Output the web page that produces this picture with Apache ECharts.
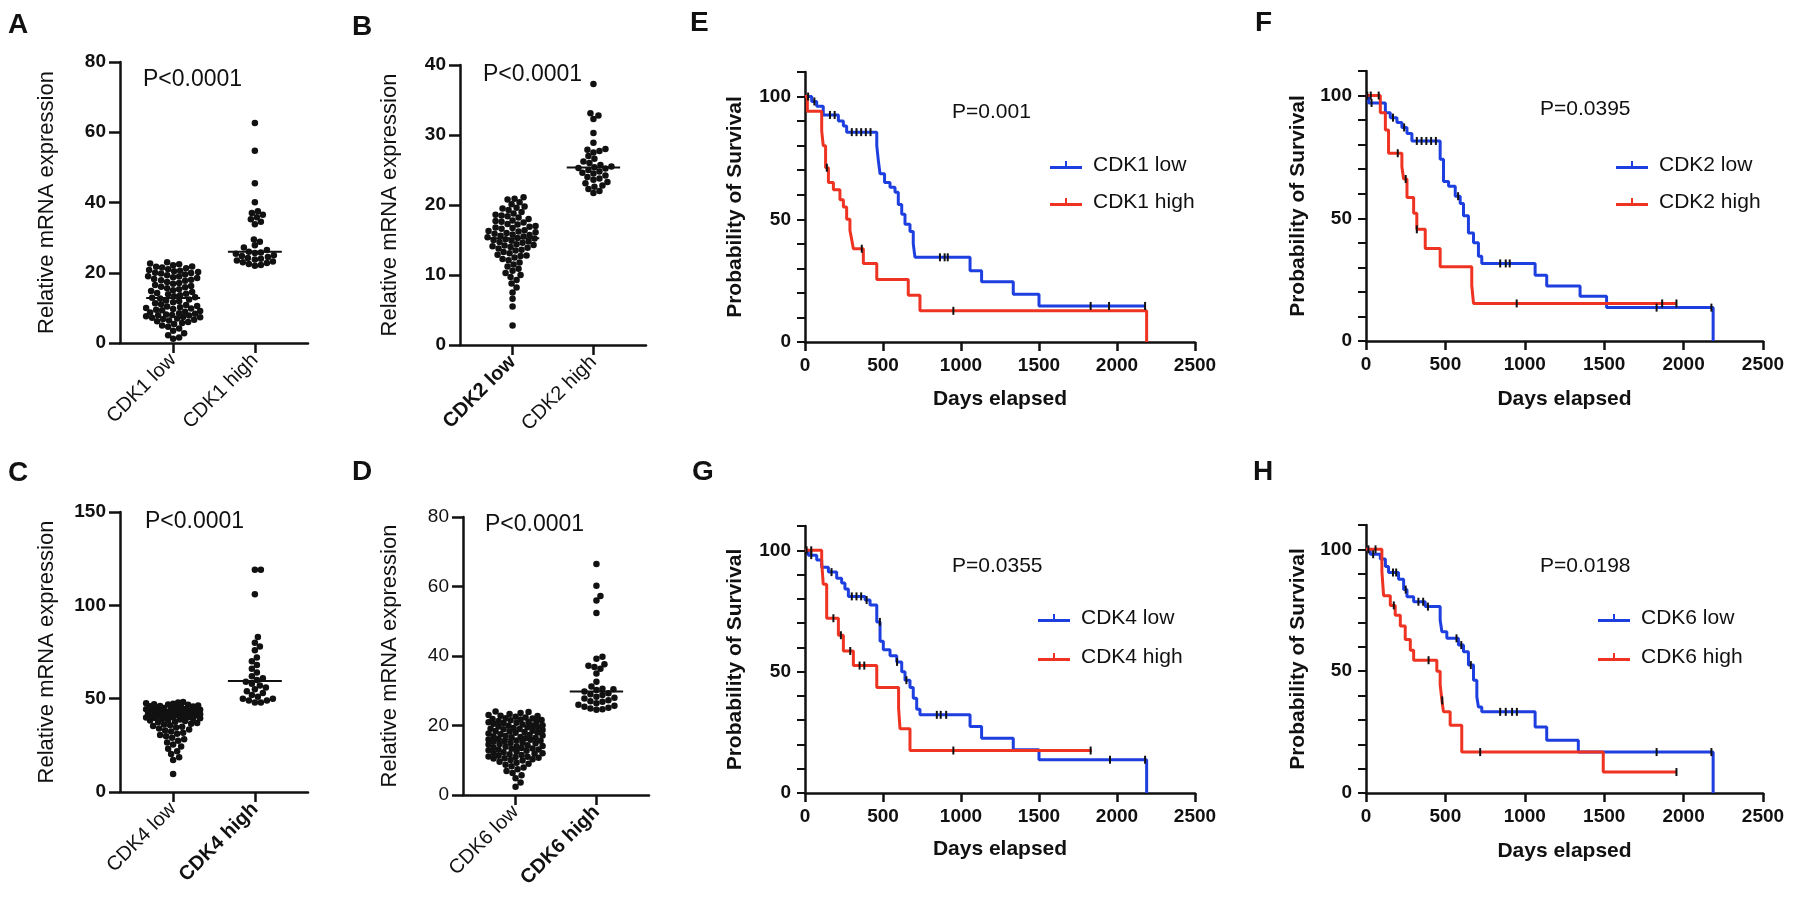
<!DOCTYPE html>
<html>
<head>
<meta charset="utf-8">
<title>CDK expression and survival</title>
<script src="https://cdn.jsdelivr.net/npm/echarts@6/dist/echarts.min.js"></script>
<style>
  html, body { margin: 0; padding: 0; background: #fff; }
  #chart { width: 1800px; height: 908px; }
</style>
</head>
<body>
<div id="chart"></div>
<script>
// ---- relative mRNA expression, panels A-D ----
const cdk1Low = [23.0, 22.6, 22.4, 22.1, 21.8, 21.7, 21.5, 21.3, 21.0, 20.8, 20.6, 20.4, 20.2, 20.0, 19.9, 19.8, 19.5,
  19.3, 19.0, 18.9, 18.7, 18.5, 18.2, 18.0, 17.9, 17.7, 17.4, 17.1, 16.9, 16.5, 16.2, 16.0, 15.9, 15.6, 15.3, 15.0,
  14.8, 14.5, 14.2, 14.0, 13.9, 13.6, 13.3, 13.0, 12.9, 12.7, 12.4, 12.1, 11.9, 11.6, 11.3, 11.0, 10.8, 10.5, 10.4,
  10.2, 10.0, 9.8, 9.7, 9.5, 9.3, 9.1, 8.9, 8.7, 8.5, 8.3, 8.1, 8.0, 7.9, 7.8, 7.6, 7.4, 7.3, 7.2, 7.0, 6.8, 6.6,
  6.4, 6.2, 6.0, 5.7, 5.4, 5.0, 4.6, 4.1, 3.5, 2.8, 2.2, 1.6, 1.2];
const cdk1High = [62.6, 54.7, 45.5, 40.1, 37.5, 37.0, 36.5, 35.8, 35.2, 34.5, 33.8, 29.5, 28.8, 27.8, 27.2, 26.5,
  26.0, 25.8, 25.6, 25.4, 25.0, 24.8, 24.5, 24.2, 24.0, 23.8, 23.5, 23.2, 23.0, 22.8, 22.5, 22.2, 22.0];
const cdk2Low = [21.1, 20.9, 20.8, 20.4, 20.1, 19.8, 19.6, 19.5, 19.3, 19.0, 18.8, 18.6, 18.5, 18.4, 18.2, 18.0,
  17.8, 17.7, 17.6, 17.5, 17.3, 17.2, 17.0, 16.9, 16.8, 16.7, 16.6, 16.4, 16.3, 16.2, 16.1, 16.0, 15.9, 15.8, 15.7,
  15.6, 15.5, 15.4, 15.3, 15.2, 15.1, 15.0, 14.9, 14.8, 14.7, 14.6, 14.4, 14.3, 14.2, 14.1, 14.0, 13.9, 13.8, 13.6,
  13.5, 13.3, 13.1, 12.9, 12.8, 12.7, 12.5, 12.3, 12.1, 11.8, 11.5, 11.2, 10.9, 10.6, 10.3, 10.0, 9.7, 9.3, 8.8,
  8.2, 7.5, 6.6, 5.5, 2.8];
const cdk2High = [37.3, 33.1, 32.8, 32.3, 30.3, 28.9, 28.0, 27.9, 27.7, 27.5, 27.0, 26.6, 26.2, 26.0, 25.7, 25.5,
  25.4, 25.3, 25.2, 25.0, 24.8, 24.6, 24.5, 24.2, 24.0, 23.8, 23.6, 23.3, 23.1, 22.8, 22.6, 22.3, 22.0, 21.7];
const cdk4Low = [48.2, 47.9, 47.6, 47.3, 47.0, 46.9, 46.7, 46.4, 46.1, 45.9, 45.8, 45.5, 45.3, 45.0, 44.8, 44.6,
  44.5, 44.3, 44.0, 43.8, 43.6, 43.4, 43.1, 43.0, 42.9, 42.7, 42.5, 42.3, 42.1, 42.0, 41.9, 41.7, 41.5, 41.3, 41.1,
  41.0, 40.9, 40.7, 40.5, 40.3, 40.1, 40.0, 39.9, 39.7, 39.5, 39.3, 39.1, 38.9, 38.6, 38.3, 38.0, 37.7, 37.4, 37.0,
  36.6, 36.2, 35.8, 35.4, 35.0, 34.5, 34.0, 33.5, 33.0, 32.4, 31.8, 31.2, 30.5, 29.8, 29.0, 28.2, 27.4, 26.5, 25.5,
  24.4, 23.2, 21.8, 20.3, 18.6, 17.2, 9.6];
const cdk4High = [119, 119, 106, 83, 80, 78, 76, 72, 70, 68, 66, 64, 62, 61, 60, 59, 58, 57, 56, 55, 54, 53, 52,
  51, 50, 50, 49, 49, 48, 48];
const cdk6Low = [24.0, 23.9, 23.6, 23.3, 23.0, 22.8, 22.7, 22.5, 22.3, 22.1, 22.0, 21.9, 21.7, 21.6, 21.5, 21.3,
  21.1, 21.0, 20.9, 20.8, 20.7, 20.5, 20.3, 20.1, 20.0, 19.9, 19.7, 19.6, 19.5, 19.3, 19.1, 19.0, 18.9, 18.7, 18.5,
  18.4, 18.3, 18.1, 18.0, 17.9, 17.7, 17.5, 17.3, 17.1, 17.0, 16.9, 16.7, 16.6, 16.5, 16.3, 16.1, 16.0, 15.9, 15.7,
  15.6, 15.5, 15.3, 15.1, 15.0, 14.9, 14.7, 14.5, 14.3, 14.1, 14.0, 13.9, 13.7, 13.5, 13.4, 13.3, 13.1, 13.0, 12.9,
  12.7, 12.5, 12.3, 12.1, 12.0, 11.9, 11.7, 11.5, 11.3, 11.1, 11.0, 10.9, 10.7, 10.6, 10.5, 10.3, 10.1, 9.9, 9.6,
  9.3, 9.0, 8.7, 8.3, 7.9, 7.4, 6.9, 6.3, 5.7, 4.8, 3.6, 2.4];
const cdk6High = [66.5, 60.2, 57.3, 56.0, 52.4, 39.8, 39.2, 37.6, 37.2, 36.8, 36.3, 35.0, 32.6, 31.2, 30.6, 30.4,
  30.2, 29.8, 29.3, 28.8, 28.3, 27.8, 27.3, 26.8, 26.4, 26.0, 25.7, 25.4, 25.1, 24.9, 24.7, 24.5, 27.0, 28.0, 29.0];

// ---- Kaplan-Meier curves, panels E-H: step times (days), survival (%), censored times ----
const cdk1LowT = [0, 43, 75, 117, 214, 246, 267, 460, 470, 481, 510, 545, 577, 598, 620, 641, 673, 694, 705, 1058, 1132, 1335, 1500, 2180];
const cdk1LowS = [100, 98, 96, 92.5, 90, 88, 85.5, 80, 74, 68.5, 65, 63, 61, 56, 52, 48, 45, 40, 34.5, 29, 24.5, 19.5, 14.7, 14.7];
const cdk1LowC = [20, 60, 160, 190, 300, 330, 360, 390, 420, 865, 895, 915, 1831, 1949, 2180];
const cdk1HighT = [0, 15, 107, 117, 132, 150, 182, 224, 246, 267, 288, 300, 310, 374, 460, 662, 737, 2190];
const cdk1HighS = [100, 94, 86, 80, 71, 65, 62, 58, 55, 50, 45.5, 41.5, 38, 32, 25.5, 19, 12.7, 0];
const cdk1HighC = [140, 364, 951];

const cdk2LowT = [0, 17, 122, 153, 195, 226, 258, 289, 467, 488, 520, 562, 593, 614, 645, 677, 708, 729, 1065, 1138, 1348, 1515, 2186];
const cdk2LowS = [100, 97, 93, 91, 89, 87, 84.5, 81.5, 74, 65, 63, 59, 56, 51, 44, 40, 34.5, 31.6, 26.8, 22.4, 18.2, 13.6, 0];
const cdk2LowC = [8, 35, 170, 240, 320, 350, 380, 410, 440, 580, 845, 880, 905, 1830, 2175];
const cdk2HighT = [0, 90, 122, 142, 226, 237, 258, 300, 320, 373, 467, 666, 677, 1955];
const cdk2HighS = [100, 93, 86, 76.5, 71, 66, 58.5, 52, 45.5, 37.7, 30.3, 22.7, 15.3, 15.3];
const cdk2HighC = [30, 80, 200, 250, 320, 949, 1865, 1955];

const cdk4LowT = [0, 21, 75, 107, 150, 203, 235, 256, 278, 385, 417, 460, 481, 502, 545, 588, 620, 641, 673, 694, 716, 737, 1058, 1132, 1335, 1500, 2190];
const cdk4LowS = [100, 98, 96, 93, 91, 88.5, 86.5, 84, 81, 79.5, 77.5, 70.5, 62.5, 59, 56.5, 54, 50, 46.5, 43.5, 39, 34.5, 32.2, 27.4, 22.6, 17.8, 13.7, 0];
const cdk4LowC = [10, 40, 170, 300, 330, 360, 395, 480, 590, 650, 845, 870, 905, 1955, 2180];
const cdk4HighT = [0, 107, 117, 139, 214, 246, 310, 460, 600, 609, 673, 1838];
const cdk4HighS = [100, 95, 86, 72, 65, 58.5, 52.5, 43.5, 35, 26.5, 17.5, 17.5];
const cdk4HighC = [40, 182, 230, 290, 350, 380, 951, 1831];

const cdk6LowT = [0, 27, 90, 122, 142, 205, 237, 258, 300, 373, 467, 478, 509, 582, 614, 645, 677, 698, 708, 729, 1065, 1138, 1337, 2186];
const cdk6LowS = [100, 98, 96, 93, 90.5, 87.7, 83.5, 80.5, 78.5, 76.5, 71, 66.2, 63.5, 60.7, 58, 52.5, 46.3, 39.5, 35.3, 33.3, 27.1, 21.6, 16.8, 0];
const cdk6LowC = [15, 45, 170, 190, 250, 330, 360, 390, 570, 600, 660, 845, 880, 920, 950, 1830, 2175];
const cdk6HighT = [0, 100, 111, 153, 184, 216, 247, 279, 300, 446, 467, 478, 488, 530, 603, 1494, 1955];
const cdk6HighS = [100, 91, 81, 77, 73, 68.5, 63, 58.6, 54.5, 50, 44.5, 38, 33.3, 27.8, 16.8, 8.6, 8.6];
const cdk6HighC = [60, 175, 394, 480, 719, 1955];

const FONT = '"Liberation Sans", Arial, sans-serif';
const INK = '#111';
const BLUE = '#1e3fe0';
const RED = '#ee3322';
// legend glyph: line with a censor tick
const KM_ICON = 'path://M0,5H32V8H0Z M15,0H17V8H15Z';

const grids = [], xAxes = [], yAxes = [], series = [], titles = [], legends = [];

function median(arr) {
    const s = arr.slice().sort((a, b) => a - b);
    const m = s.length >> 1;
    return s.length % 2 ? s[m] : (s[m - 1] + s[m]) / 2;
}

// simple beeswarm: push each dot sideways (in px) until it no longer hits earlier dots
function swarm(values, center, pxX, pxY) {
    const d = 6, maxHalf = 27;
    const placed = [];
    return values.slice().sort((a, b) => a - b).map(v => {
        const yp = v * pxY;
        let best = 0, bestGap = -1;
        for (let k = 0; k <= maxHalf * 2; k++) {
            const xp = (k % 2 ? 1 : -1) * Math.ceil(k / 2);
            let gap = Infinity;
            for (const p of placed) {
                const dy = p[1] - yp;
                if (Math.abs(dy) >= d) continue;
                gap = Math.min(gap, Math.hypot(p[0] - xp, dy));
            }
            if (gap >= d) { best = xp; break; }
            if (gap > bestGap) { bestGap = gap; best = xp; }
        }
        placed.push([best, yp]);
        return [center + best / pxX, v];
    });
}

function survAt(t, times, surv) {
    let s = surv[0];
    for (let i = 0; i < times.length; i++) {
        if (times[i] <= t) s = surv[i];
    }
    return s;
}

function addTitle(text, left, top, size, weight) {
    titles.push({text, left, top, padding: 0,
        textStyle: {fontFamily: FONT, fontSize: size, fontWeight: weight, color: INK}});
}

function scatterPanel(p) {
    const gi = grids.length;
    const xMin = -0.65, xMax = 1.65;
    grids.push({left: p.left, top: p.top, width: p.width, height: p.height});
    const pxX = p.width / (xMax - xMin), pxY = p.height / p.yMax;
    xAxes.push({
        type: 'value', gridIndex: gi, min: xMin, max: xMax,
        splitLine: {show: false},
        axisLine: {show: true, onZero: false, lineStyle: {color: INK, width: 2.5}},
        axisTick: {show: true, customValues: [0, 1], length: 10, lineStyle: {color: INK, width: 2.5}},
        axisLabel: {
            customValues: [0, 1], rotate: 45, margin: 14, color: INK,
            formatter: v => (p.bold[Math.round(v)] ? '{b|' : '{n|') + p.names[Math.round(v)] + '}',
            rich: {
                b: {fontFamily: FONT, fontSize: 20, fontWeight: 'bold', color: INK},
                n: {fontFamily: FONT, fontSize: 20, color: INK}
            }
        }
    });
    yAxes.push({
        type: 'value', gridIndex: gi, min: 0, max: p.yMax, interval: p.yStep,
        name: 'Relative mRNA expression', nameLocation: 'middle', nameGap: p.nameGap,
        nameTextStyle: {fontFamily: FONT, fontSize: 22, color: INK},
        splitLine: {show: false},
        axisLine: {show: true, onZero: false, lineStyle: {color: INK, width: 2.5}},
        axisTick: {show: true, length: 11, lineStyle: {color: INK, width: 2.5}},
        axisLabel: {fontFamily: FONT, fontSize: 19, fontWeight: p.tickWeight, color: INK, margin: 14}
    });
    p.groups.forEach((vals, i) => {
        series.push({
            type: 'scatter', xAxisIndex: gi, yAxisIndex: gi, data: swarm(vals, i, pxX, pxY),
            symbolSize: 6.5, itemStyle: {color: INK, opacity: 1}, silent: true, z: 3
        });
        const m = median(vals);
        series.push({
            type: 'line', xAxisIndex: gi, yAxisIndex: gi, data: [[i - 0.33, m], [i + 0.33, m]],
            symbol: 'none', lineStyle: {color: INK, width: 2}, silent: true, z: 4
        });
    });
    addTitle(p.letter, p.letterPos[0], p.letterPos[1], 28, 'bold');
    addTitle('P<0.0001', p.pPos[0], p.pPos[1], 23, 'normal');
}

function kmPanel(p) {
    const gi = grids.length;
    grids.push({left: p.left, top: p.top, width: p.width, height: p.height});
    xAxes.push({
        type: 'value', gridIndex: gi, min: 0, max: 2500, interval: 500,
        name: 'Days elapsed', nameLocation: 'middle', nameGap: p.xNameGap,
        nameTextStyle: {fontFamily: FONT, fontSize: 21, fontWeight: 'bold', color: INK},
        splitLine: {show: false},
        axisLine: {show: true, onZero: false, lineStyle: {color: INK, width: 2.5}},
        axisTick: {show: true, length: 9, lineStyle: {color: INK, width: 2.5}},
        axisLabel: {fontFamily: FONT, fontSize: 19, fontWeight: 'bold', color: INK, margin: 14,
            formatter: v => String(v)}
    });
    yAxes.push({
        type: 'value', gridIndex: gi, min: 0, max: 110, interval: 10,
        name: 'Probability of Survival', nameLocation: 'middle', nameGap: p.yNameGap,
        nameTextStyle: {fontFamily: FONT, fontSize: 21, fontWeight: 'bold', color: INK},
        splitLine: {show: false},
        axisLine: {show: true, onZero: false, lineStyle: {color: INK, width: 2.5}},
        axisTick: {show: true, length: 8, lineStyle: {color: INK, width: 2}},
        axisLabel: {fontFamily: FONT, fontSize: 19, fontWeight: 'bold', color: INK, margin: 14,
            formatter: v => (v % 50 === 0 ? String(v) : '')}
    });
    p.curves.forEach(c => {
        series.push({
            type: 'line', name: c.name, xAxisIndex: gi, yAxisIndex: gi, step: 'end',
            data: c.t.map((t, i) => [t, c.s[i]]), symbol: 'none', color: c.color,
            lineStyle: {color: c.color, width: 3}, silent: true, z: 3
        });
        series.push({
            type: 'scatter', name: c.name + ' censored', xAxisIndex: gi, yAxisIndex: gi,
            data: c.censor.map(t => [t, survAt(t, c.t, c.s)]),
            symbol: 'rect', symbolSize: [2, 8], itemStyle: {color: INK, opacity: 1}, silent: true, z: 4
        });
    });
    legends.push({
        data: p.curves.map(c => c.name), orient: 'vertical', left: p.legend[0], top: p.legend[1],
        itemWidth: 32, itemHeight: 14, itemGap: p.legend[2], icon: KM_ICON, selectedMode: false,
        textStyle: {fontFamily: FONT, fontSize: 21, color: INK, lineHeight: 22, padding: [0, 0, 0, 6]}
    });
    addTitle(p.letter, p.letterPos[0], p.letterPos[1], 28, 'bold');
    addTitle(p.pText, p.pPos[0], p.pPos[1], 21, 'normal');
}

scatterPanel({letter: 'A', letterPos: [8, 11], pPos: [143, 68], left: 120, top: 62, width: 188, height: 281,
    yMax: 80, yStep: 20, nameGap: 62, tickWeight: 'bold',
    names: ['CDK1 low', 'CDK1 high'], bold: [false, false], groups: [cdk1Low, cdk1High]});
scatterPanel({letter: 'B', letterPos: [352, 13], pPos: [483, 63], left: 460, top: 65, width: 186, height: 280,
    yMax: 40, yStep: 10, nameGap: 59, tickWeight: 'bold',
    names: ['CDK2 low', 'CDK2 high'], bold: [true, false], groups: [cdk2Low, cdk2High]});
scatterPanel({letter: 'C', letterPos: [8, 459], pPos: [145, 510], left: 120, top: 512, width: 188, height: 280,
    yMax: 150, yStep: 50, nameGap: 62, tickWeight: 'bold',
    names: ['CDK4 low', 'CDK4 high'], bold: [false, true], groups: [cdk4Low, cdk4High]});
scatterPanel({letter: 'D', letterPos: [352, 458], pPos: [485, 513], left: 463, top: 517, width: 186, height: 278,
    yMax: 80, yStep: 20, nameGap: 62, tickWeight: 'normal',
    names: ['CDK6 low', 'CDK6 high'], bold: [false, true], groups: [cdk6Low, cdk6High]});

kmPanel({letter: 'E', letterPos: [690, 9], pText: 'P=0.001', pPos: [952, 102],
    left: 805, top: 72, width: 390, height: 270, xNameGap: 47, yNameGap: 59, legend: [1045, 149, 15],
    curves: [
        {name: 'CDK1 low', color: BLUE, t: cdk1LowT, s: cdk1LowS, censor: cdk1LowC},
        {name: 'CDK1 high', color: RED, t: cdk1HighT, s: cdk1HighS, censor: cdk1HighC}
    ]});
kmPanel({letter: 'F', letterPos: [1255, 9], pText: 'P=0.0395', pPos: [1540, 99],
    left: 1366, top: 71, width: 397, height: 270, xNameGap: 48, yNameGap: 57, legend: [1611, 149, 15],
    curves: [
        {name: 'CDK2 low', color: BLUE, t: cdk2LowT, s: cdk2LowS, censor: cdk2LowC},
        {name: 'CDK2 high', color: RED, t: cdk2HighT, s: cdk2HighS, censor: cdk2HighC}
    ]});
kmPanel({letter: 'G', letterPos: [692, 458], pText: 'P=0.0355', pPos: [952, 556],
    left: 805, top: 526, width: 390, height: 267, xNameGap: 46, yNameGap: 59, legend: [1033, 602, 17],
    curves: [
        {name: 'CDK4 low', color: BLUE, t: cdk4LowT, s: cdk4LowS, censor: cdk4LowC},
        {name: 'CDK4 high', color: RED, t: cdk4HighT, s: cdk4HighS, censor: cdk4HighC}
    ]});
kmPanel({letter: 'H', letterPos: [1253, 458], pText: 'P=0.0198', pPos: [1540, 556],
    left: 1366, top: 525, width: 397, height: 268, xNameGap: 48, yNameGap: 57, legend: [1593, 602, 17],
    curves: [
        {name: 'CDK6 low', color: BLUE, t: cdk6LowT, s: cdk6LowS, censor: cdk6LowC},
        {name: 'CDK6 high', color: RED, t: cdk6HighT, s: cdk6HighS, censor: cdk6HighC}
    ]});

const chart = echarts.init(document.getElementById('chart'), null, {renderer: 'canvas'});
chart.setOption({
    backgroundColor: '#fff',
    animation: false,
    title: titles,
    legend: legends,
    grid: grids,
    xAxis: xAxes,
    yAxis: yAxes,
    series
});
</script>
</body>
</html>
